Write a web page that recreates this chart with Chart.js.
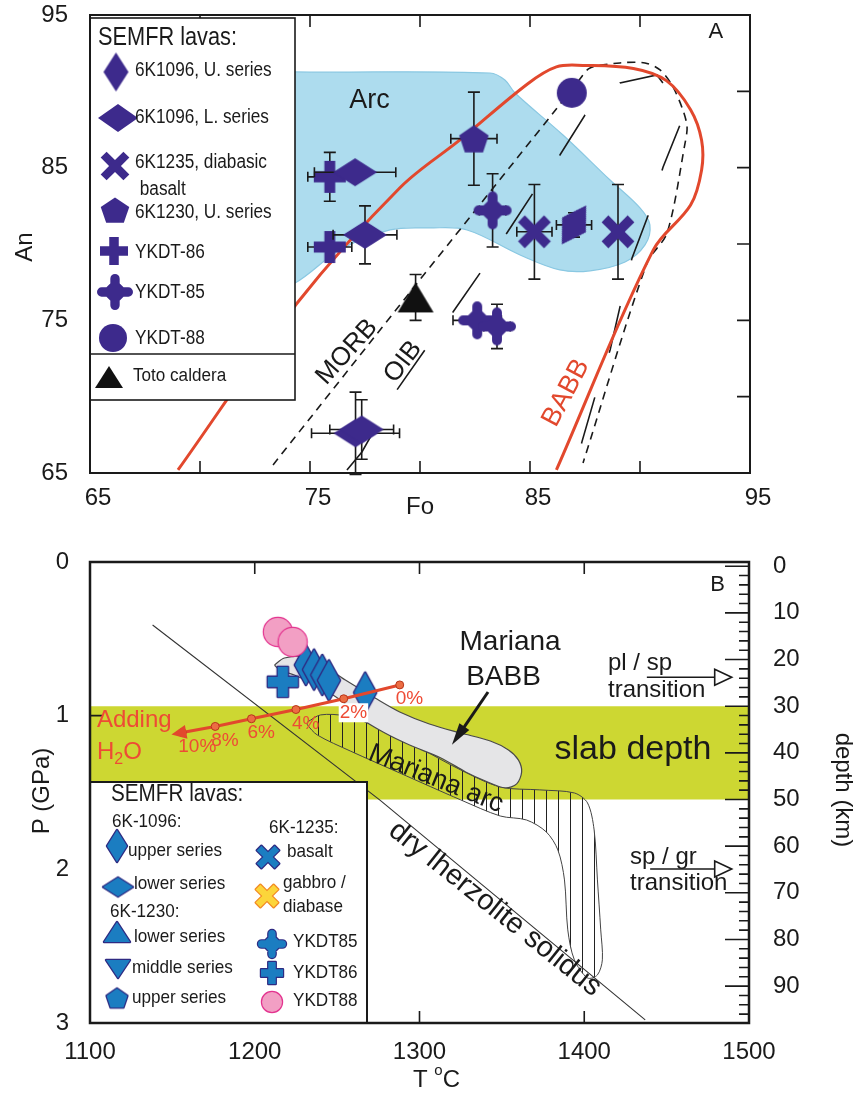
<!DOCTYPE html>
<html>
<head>
<meta charset="utf-8">
<title>SEMFR lavas: An-Fo and P-T</title>
<script src="https://cdn.jsdelivr.net/npm/chart.js@4.4.0/dist/chart.umd.min.js"></script>
<style>
  html, body { margin: 0; padding: 0; background: #fff; }
  #wrapA { position: absolute; left: 0; top: 0; width: 856px; height: 520px; }
  #wrapB { position: absolute; left: 0; top: 520px; width: 856px; height: 575px; }
</style>
</head>
<body>
<div id="wrapA"><canvas id="panelA" width="856" height="520"></canvas></div>
<div id="wrapB"><canvas id="panelB" width="856" height="575"></canvas></div>
<script>
// ===== panel A: olivine Fo vs plagioclase An =====
const foTicks = [70, 75, 80, 85, 90];
const anTicks = [70, 75, 80, 85, 90];

const namesA = ['6K1096, U. series', '6K1096, L. series', '6K1235, diabasic\n basalt', '6K1230, U. series',
                'YKDT-86', 'YKDT-85', 'YKDT-88', 'Toto caldera'];

const u1096Fo = [87.0];
const u1096An = [81.25];
const u1096FoErr = [0.8];
const u1096AnErr = [0.8];

const l1096Fo = [77.05, 77.5, 77.07, 77.35];
const l1096An = [84.7, 80.6, 67.6, 67.85];
const l1096FoErr = [1.85, 1.45, 2.0, 1.45];
const l1096AnErr = [0, 1.9, 2.7, 1.95];

const d1235Fo = [85.2, 89.0];
const d1235An = [80.8, 80.8];
const d1235FoErr = [0.8, 0];
const d1235AnErr = [3.1, 3.1];

const u1230Fo = [82.45];
const u1230An = [86.9];
const u1230FoErr = [1.05];
const u1230AnErr = [3.05];

const ykdt86Fo = [75.9, 75.9];
const ykdt86An = [84.4, 79.8];
const ykdt86FoErr = [1.0, 1.0];
const ykdt86AnErr = [1.6, 0];

const ykdt85Fo = [83.3, 82.6, 83.5];
const ykdt85An = [82.2, 75.0, 74.6];
const ykdt85FoErr = [0.6, 1.1, 0.6];
const ykdt85AnErr = [2.4, 0, 1.45];

const ykdt88Fo = [86.9];
const ykdt88An = [89.9];

const totoFo = [79.8];
const totoAn = [76.5];
const totoAnErr = [1.5];

// outlines of the compositional fields
const arcFo = [72.27, 74.32, 83.18, 83.86, 84.32, 86.5, 88.64, 90.0, 90.45, 90.23, 89.32, 87.73, 86.36, 84.55, 82.14, 80.45, 78.64, 76.36, 74.32, 72.27];
const arcAn = [91.4, 91.27, 91.2, 90.74, 89.89, 87.14, 84.19, 82.36, 81.25, 79.94, 78.82, 78.24, 78.3, 79.28, 80.92, 81.05, 80.92, 79.61, 77.45, 76.34];

const babbFo = [69.0, 74.4, 79.1, 81.8, 84.9, 86.2, 87.4, 89.7, 91.2, 92.3, 92.8, 92.8, 92.3, 90.6, 86.2];
const babbAn = [65.2, 76.1, 83.7, 86.8, 90.5, 91.6, 91.7, 91.5, 90.7, 88.8, 86.8, 84.85, 82.55, 79.6, 65.2];

const morbFo = [73.32, 79.77, 86.05, 87.27, 87.73, 89.09, 90.23, 90.91, 91.45, 91.95, 92.14, 92.05, 91.23, 90.32, 87.41];
const morbAn = [65.53, 77.25, 88.58, 90.81, 91.53, 91.86, 91.86, 91.4, 90.42, 88.78, 87.67, 86.62, 80.72, 78.76, 65.66];

const oibFo = [76.68, 77.36, 78.95, 80.45, 81.5, 82.73, 83.95, 85.14, 86.36, 87.5, 89.09, 90.77, 91.45, 91.82, 91.05, 90.36, 89.64, 89.09, 88.64, 87.95, 87.36, 87.05];
const oibAn = [65.2, 66.38, 70.44, 73.52, 75.55, 78.1, 80.72, 83.34, 85.83, 88.45, 90.55, 91.07, 89.76, 87.8, 85.05, 81.84, 79.09, 75.88, 73.06, 69.98, 67.04, 65.2];

// ===== panel B: pressure vs temperature =====
const tempTicks = [1200, 1300, 1400];
const pTicks = [1, 2];
const depthMajor = [0, 10, 20, 30, 40, 50, 60, 70, 80, 90];

const namesB = ['upper series', 'lower series', 'lower series', 'middle series', 'upper series',
                'basalt', 'gabbro /\ndiabase', 'YKDT85', 'YKDT86', 'YKDT88'];

const ykdt88T = [1214, 1223];
const ykdt88P = [0.455, 0.52];
const ykdt86T = [1217];
const ykdt86P = [0.78];
const upper1096T = [1231, 1236, 1241, 1245, 1267];
const upper1096P = [0.67, 0.70, 0.735, 0.77, 0.85];

const waterT = [1288, 1254, 1225, 1198, 1176, 1156];
const waterP = [0.80, 0.89, 0.96, 1.02, 1.07, 1.11];
const waterLabels = ['0%', '2%', '4%', '6%', '8%', '10%'];

const solidusT = [1138, 1276, 1437];
const solidusP = [0.41, 1.55, 2.98];

const babbFieldT = [1212, 1218, 1231, 1243, 1255, 1273, 1288, 1306, 1325, 1343, 1354, 1360, 1362, 1359, 1352, 1340, 1328, 1313, 1294, 1279, 1264, 1252, 1237, 1224, 1215];
const babbFieldP = [0.67, 0.625, 0.618, 0.683, 0.768, 0.885, 0.976, 1.054, 1.113, 1.165, 1.223, 1.288, 1.366, 1.444, 1.47, 1.425, 1.366, 1.275, 1.191, 1.113, 1.015, 0.898, 0.8, 0.735, 0.703];

const arcFieldT = [1232, 1240, 1255, 1276, 1300, 1325, 1349, 1373, 1394, 1402, 1406, 1408, 1410, 1411, 1408, 1402, 1394, 1390, 1388, 1384, 1377, 1365, 1349, 1325, 1288, 1258, 1238, 1232];
const arcFieldP = [1.041, 0.995, 1.002, 1.08, 1.21, 1.353, 1.464, 1.483, 1.503, 1.568, 1.744, 2.069, 2.394, 2.589, 2.687, 2.707, 2.589, 2.394, 2.069, 1.874, 1.757, 1.679, 1.653, 1.548, 1.373, 1.23, 1.126, 1.06];

const slabKm = [30, 50];

// ===== drawing helpers =====
const FONT = '"Liberation Sans", Arial, Helvetica, sans-serif';
const INK = '#1a1a1a';
const PURPLE = '#3d2a8c';
const BLUE = '#1b7dc1';
const NAVY = '#2e2a82';
const RED = '#e2482d';
const LABEL_RED = '#ee4b35';

Chart.defaults.font.family = FONT;
Chart.defaults.color = INK;

function pts(xs, ys) { return xs.map((x, i) => ({ x: x, y: ys[i] })); }
function closed(list) { return list.concat([list[0]]); }

function shapePath(g, shape, rx, ry) {
  g.beginPath();
  if (shape === 'circle') {
    g.ellipse(0, 0, rx, ry, 0, 0, Math.PI * 2);
  } else if (shape === 'diamond') {
    g.moveTo(0, -ry); g.lineTo(rx, 0); g.lineTo(0, ry); g.lineTo(-rx, 0); g.closePath();
  } else if (shape === 'triangle') {
    g.moveTo(0, -ry); g.lineTo(rx, ry); g.lineTo(-rx, ry); g.closePath();
  } else if (shape === 'triangleDown') {
    g.moveTo(-rx, -ry); g.lineTo(rx, -ry); g.lineTo(0, ry); g.closePath();
  } else if (shape === 'pentagon') {
    for (let i = 0; i < 5; i++) {
      const ang = -Math.PI / 2 + i * 2 * Math.PI / 5;
      const px = rx * Math.cos(ang), py = ry * Math.sin(ang) + ry * 0.1;
      if (i) g.lineTo(px, py); else g.moveTo(px, py);
    }
    g.closePath();
  } else if (shape === 'plus' || shape === 'cross') {
    const isX = shape === 'cross';
    const r = isX ? rx * 1.15 : rx, t = isX ? rx * 0.3 : rx * 0.34;
    const rot = isX ? Math.PI / 4 : 0;
    const c = [[-t, -r], [t, -r], [t, -t], [r, -t], [r, t], [t, t], [t, r], [-t, r], [-t, t], [-r, t], [-r, -t], [-t, -t]];
    c.forEach(([u, v], i) => {
      const px = u * Math.cos(rot) - v * Math.sin(rot), py = u * Math.sin(rot) + v * Math.cos(rot);
      if (i) g.lineTo(px, py); else g.moveTo(px, py);
    });
    g.closePath();
  } else if (shape === 'lobed') {
    const t = rx * 0.26, L = rx - t, d = rx * 0.74;
    g.moveTo(0, -d); g.lineTo(d, 0); g.lineTo(0, d); g.lineTo(-d, 0); g.closePath();
    g.rect(-t, -L, 2 * t, 2 * L);
    g.rect(-L, -t, 2 * L, 2 * t);
    [[0, -L], [L, 0], [0, L], [-L, 0]].forEach(([u, v]) => { g.moveTo(u + t, v); g.arc(u, v, t, 0, Math.PI * 2); });
  }
}

function makeMarker(shape, w, h, fill, stroke, lw) {
  const pad = Math.ceil((lw || 0) + 2);
  const c = document.createElement('canvas');
  c.width = Math.ceil(w + pad * 2);
  c.height = Math.ceil(h + pad * 2);
  const g = c.getContext('2d');
  g.translate(c.width / 2, c.height / 2);
  shapePath(g, shape, w / 2, h / 2);
  if (lw) { g.lineWidth = lw * 2; g.strokeStyle = stroke; g.lineJoin = 'round'; g.stroke(); }
  g.fillStyle = fill;
  g.fill();
  return c;
}

function stamp(ctx, c, x, y) { ctx.drawImage(c, x - c.width / 2, y - c.height / 2); }

function text(ctx, str, x, y, o) {
  o = o || {};
  ctx.save();
  ctx.translate(x, y);
  if (o.rot) ctx.rotate(o.rot * Math.PI / 180);
  if (o.sx) ctx.scale(o.sx, 1);
  ctx.font = (o.size || 20) + 'px ' + FONT;
  ctx.textAlign = o.align || 'left';
  ctx.textBaseline = 'middle';
  const w = ctx.measureText(str).width;
  if (o.bg) {
    ctx.fillStyle = o.bg;
    const x0 = ctx.textAlign === 'center' ? -w / 2 : 0;
    ctx.fillRect(x0 - 1, -(o.size || 20) * 0.5, w + 2, (o.size || 20));
  }
  ctx.fillStyle = o.color || INK;
  ctx.fillText(str, 0, 0);
  ctx.restore();
  return w * (o.sx || 1);
}

function innerTicks(ctx, a, scale, values, side, len) {
  ctx.beginPath();
  values.forEach(v => {
    const p = scale.getPixelForValue(v);
    if (side === 'bottom') { ctx.moveTo(p, a.bottom); ctx.lineTo(p, a.bottom - len); }
    if (side === 'top') { ctx.moveTo(p, a.top); ctx.lineTo(p, a.top + len); }
    if (side === 'left') { ctx.moveTo(a.left, p); ctx.lineTo(a.left + len, p); }
    if (side === 'right') { ctx.moveTo(a.right, p); ctx.lineTo(a.right - len, p); }
  });
  ctx.stroke();
}

function openArrow(ctx, x0, y0, x1, y1) {
  ctx.beginPath(); ctx.moveTo(x0, y0); ctx.lineTo(x1 - 16, y1); ctx.stroke();
  ctx.beginPath(); ctx.moveTo(x1, y1); ctx.lineTo(x1 - 17, y1 - 8); ctx.lineTo(x1 - 17, y1 + 8); ctx.closePath();
  ctx.fillStyle = '#fff'; ctx.fill(); ctx.stroke();
}

// x / y error bars kept on the marker datasets
const errorBars = {
  id: 'errorBars',
  beforeDatasetDraw(chart, args) {
    const ds = chart.data.datasets[args.index];
    if (!ds.errX && !ds.errY) return;
    const ctx = chart.ctx, sx = args.meta.xScale, sy = args.meta.yScale;
    ctx.save();
    ctx.strokeStyle = INK;
    ctx.lineWidth = 1.6;
    ctx.beginPath();
    ds.data.forEach((p, i) => {
      const ex = ds.errX ? ds.errX[i] : 0, ey = ds.errY ? ds.errY[i] : 0;
      const px = sx.getPixelForValue(p.x), py = sy.getPixelForValue(p.y);
      if (ex) {
        const l = sx.getPixelForValue(p.x - ex), r = sx.getPixelForValue(p.x + ex);
        ctx.moveTo(l, py); ctx.lineTo(r, py);
        ctx.moveTo(l, py - 5); ctx.lineTo(l, py + 5);
        ctx.moveTo(r, py - 5); ctx.lineTo(r, py + 5);
      }
      if (ey) {
        const t = sy.getPixelForValue(p.y + ey), b = sy.getPixelForValue(p.y - ey);
        ctx.moveTo(px, t); ctx.lineTo(px, b);
        ctx.moveTo(px - 6, t); ctx.lineTo(px + 6, t);
        ctx.moveTo(px - 6, b); ctx.lineTo(px + 6, b);
      }
    });
    ctx.stroke();
    ctx.restore();
  }
};

function markerSet(label, xs, ys, style, ex, ey, extra) {
  return Object.assign({ label: label, data: pts(xs, ys), pointStyle: style, pointRadius: 12, errX: ex, errY: ey }, extra || {});
}

// keep tick-label overflow from pushing the plot frame around
function fixBox(size) {
  return s => {
    if (s.isHorizontal()) s.height = size; else s.width = size;
    s.paddingTop = 0; s.paddingBottom = 0; s.paddingLeft = 0; s.paddingRight = 0;
  };
}

// ===== panel A chart =====
const markA = {
  u1096: makeMarker('diamond', 28, 46, PURPLE),
  l1096: makeMarker('diamond', 44, 28, PURPLE),
  d1235: makeMarker('cross', 32, 32, PURPLE),
  u1230: makeMarker('pentagon', 31, 30, PURPLE),
  ykdt86: makeMarker('plus', 32, 32, PURPLE),
  ykdt85: makeMarker('lobed', 38, 38, PURPLE),
  ykdt88: makeMarker('circle', 30, 30, PURPLE),
  toto: makeMarker('triangle', 36, 30, '#111')
};
const keyA = [
  makeMarker('diamond', 25, 39, PURPLE),
  makeMarker('diamond', 40, 28, PURPLE),
  makeMarker('cross', 28, 28, PURPLE),
  makeMarker('pentagon', 30, 28, PURPLE),
  makeMarker('plus', 28, 28, PURPLE),
  makeMarker('lobed', 36, 36, PURPLE),
  makeMarker('circle', 28, 28, PURPLE),
  makeMarker('triangle', 28, 22, '#111')
];

const datasetsA = [
  markerSet('YKDT-88', ykdt88Fo, ykdt88An, markA.ykdt88),
  markerSet('6K1096, U. series', u1096Fo, u1096An, markA.u1096, u1096FoErr, u1096AnErr, { pointRotation: 32 }),
  markerSet('6K1235', d1235Fo, d1235An, markA.d1235, d1235FoErr, d1235AnErr),
  markerSet('YKDT-85', ykdt85Fo, ykdt85An, markA.ykdt85, ykdt85FoErr, ykdt85AnErr),
  markerSet('6K1230, U. series', u1230Fo, u1230An, markA.u1230, u1230FoErr, u1230AnErr),
  markerSet('6K1096, L. series', l1096Fo, l1096An, markA.l1096, l1096FoErr, l1096AnErr),
  markerSet('YKDT-86', ykdt86Fo, ykdt86An, markA.ykdt86, ykdt86FoErr, ykdt86AnErr),
  markerSet('Toto caldera', totoFo, totoAn, markA.toto, null, totoAnErr),
  { type: 'line', label: 'BABB', data: pts(babbFo, babbAn), borderColor: RED, borderWidth: 3,
    pointRadius: 0, tension: 0.35, fill: false },
  { type: 'line', label: 'OIB', data: pts(oibFo, oibAn), borderColor: INK, borderWidth: 1.6,
    borderDash: [48, 47], pointRadius: 0, tension: 0, fill: false },
  { type: 'line', label: 'MORB', data: pts(morbFo, morbAn), borderColor: INK, borderWidth: 1.6,
    borderDash: [8, 6], pointRadius: 0, tension: 0.3, fill: false },
  { type: 'line', label: 'Arc', data: closed(pts(arcFo, arcAn)), borderColor: '#8ac8e2', borderWidth: 1.2,
    backgroundColor: '#addcee', fill: 'shape', pointRadius: 0, tension: 0.35 }
];

const decorA = {
  id: 'decorA',
  afterDatasetsDraw(chart) {
    const { ctx, chartArea: a, scales: { x, y } } = chart;
    const X = v => x.getPixelForValue(v), Y = v => y.getPixelForValue(v);
    ctx.save();
    ctx.strokeStyle = INK;
    ctx.lineWidth = 1.6;
    innerTicks(ctx, a, x, foTicks, 'bottom', 12);
    innerTicks(ctx, a, x, foTicks, 'top', 12);
    innerTicks(ctx, a, y, anTicks, 'right', 13);

    text(ctx, 'Arc', X(77.7), Y(89.4), { size: 27, align: 'center' });
    text(ctx, 'A', X(93.45), Y(93.9), { size: 22, align: 'center' });
    text(ctx, 'MORB', X(76.68), Y(72.93), { size: 26, align: 'center', rot: -48 });
    text(ctx, 'OIB', X(79.23), Y(72.28), { size: 26, align: 'center', rot: -52 });
    text(ctx, 'BABB', X(86.64), Y(70.25), { size: 27, align: 'center', rot: -62, color: RED });

    // key
    ctx.fillStyle = '#fff';
    ctx.fillRect(90, 18, 205, 382);
    ctx.lineWidth = 1.6;
    ctx.strokeRect(90, 18, 205, 382);
    ctx.beginPath(); ctx.moveTo(90, 354); ctx.lineTo(295, 354); ctx.stroke();
    text(ctx, 'SEMFR lavas:', 98, 38, { size: 25, sx: 0.87 });
    const rows = [[116, 72, 70], [118, 118, 117], [115, 166, 162], [115, 210, 212],
                  [114, 251, 252], [115, 292, 292], [113, 338, 338], [109, 377, 376]];
    rows.forEach((r, i) => {
      stamp(ctx, keyA[i], r[0], r[1]);
      namesA[i].split('\n').forEach((s, k) =>
        text(ctx, s, i === 7 ? 133 : 135, r[2] + k * 27, { size: i === 7 ? 18 : 20, sx: i === 7 ? 0.95 : 0.86 }));
    });

    ctx.lineWidth = 2;
    ctx.strokeRect(a.left, a.top, a.right - a.left, a.bottom - a.top);
    text(ctx, 'Fo', (a.left + a.right) / 2, 507, { size: 24, align: 'center' });
    text(ctx, 'An', 25, 247, { size: 24, align: 'center', rot: -90 });
    ctx.restore();
  }
};

const tickLabel10 = base => v => (v - base) % 10 === 0 ? String(v) : '';

new Chart(document.getElementById('panelA'), {
  type: 'scatter',
  data: { datasets: datasetsA },
  options: {
    responsive: false,
    animation: false,
    events: [],
    layout: { padding: { left: 0, right: 106, top: 15, bottom: 0 } },
    plugins: { legend: { display: false }, tooltip: { enabled: false } },
    scales: {
      x: {
        type: 'linear', min: 65, max: 95,
        grid: { display: false }, border: { display: false },
        ticks: { stepSize: 5, autoSkip: false, maxRotation: 0, padding: 3, labelOffset: 8,
                 font: { size: 24 }, callback: tickLabel10(65) },
        afterFit: fixBox(47)
      },
      y: {
        type: 'linear', min: 65, max: 95,
        grid: { display: false }, border: { display: false },
        ticks: { stepSize: 5, autoSkip: false, padding: 14, font: { size: 24 }, callback: tickLabel10(65) },
        afterFit: fixBox(90)
      }
    }
  },
  plugins: [errorBars, decorA]
});

// ===== panel B chart =====
const ctxB = document.getElementById('panelB').getContext('2d');
const hatchTile = document.createElement('canvas');
hatchTile.width = 12; hatchTile.height = 8;
(function () {
  const g = hatchTile.getContext('2d');
  g.strokeStyle = '#222'; g.lineWidth = 1;
  g.beginPath(); g.moveTo(6.5, 0); g.lineTo(6.5, 8); g.stroke();
})();
const hatch = ctxB.createPattern(hatchTile, 'repeat');

const markB = {
  upper1096: makeMarker('diamond', 22, 40, BLUE, NAVY, 1.3),
  ykdt86: makeMarker('plus', 30, 30, BLUE, NAVY, 1.3),
  ykdt88: makeMarker('circle', 28, 28, '#f29fc4', '#e3338f', 1.2)
};
const keyB = [
  makeMarker('diamond', 20, 32, BLUE, NAVY, 1.2),
  makeMarker('diamond', 30, 19, BLUE, NAVY, 1.2),
  makeMarker('triangle', 26, 20, BLUE, NAVY, 1.2),
  makeMarker('triangleDown', 24, 18, BLUE, NAVY, 1.2),
  makeMarker('pentagon', 22, 21, BLUE, NAVY, 1.2),
  makeMarker('cross', 22, 22, BLUE, NAVY, 1.2),
  makeMarker('cross', 22, 22, '#fcd53a', '#f28a23', 1.2),
  makeMarker('lobed', 28, 28, BLUE, NAVY, 1.2),
  makeMarker('plus', 22, 24, BLUE, NAVY, 1.2),
  makeMarker('circle', 20, 20, '#f29fc4', '#e3338f', 1.2)
];

const datasetsB = [
  { type: 'line', label: 'Adding H2O', data: pts(waterT, waterP), borderColor: RED, borderWidth: 3,
    pointRadius: 4, pointBackgroundColor: '#ec6d43', pointBorderColor: '#b8361a', pointBorderWidth: 1,
    tension: 0, fill: false },
  markerSet('YKDT88', ykdt88T, ykdt88P, markB.ykdt88),
  markerSet('YKDT86', ykdt86T, ykdt86P, markB.ykdt86),
  markerSet('6K-1096 upper series', upper1096T, upper1096P, markB.upper1096),
  { type: 'line', label: 'Mariana BABB', data: closed(pts(babbFieldT, babbFieldP)), borderColor: '#4a4a4a',
    borderWidth: 1.2, backgroundColor: '#e5e5e7', fill: 'shape', pointRadius: 0, tension: 0.3 },
  { type: 'line', label: 'dry lherzolite solidus', data: pts(solidusT, solidusP), borderColor: '#333',
    borderWidth: 1.1, pointRadius: 0, tension: 0, fill: false },
  { type: 'line', label: 'Mariana arc', data: closed(pts(arcFieldT, arcFieldP)), borderColor: '#444',
    borderWidth: 1, backgroundColor: hatch, fill: 'shape', pointRadius: 0, tension: 0.3 },
  { type: 'line', label: 'slab top', yAxisID: 'depth', data: pts([1100, 1500], [slabKm[0], slabKm[0]]),
    borderColor: 'rgba(0,0,0,0)', pointRadius: 0, fill: false },
  { type: 'line', label: 'slab depth', yAxisID: 'depth', data: pts([1100, 1500], [slabKm[1], slabKm[1]]),
    borderColor: 'rgba(0,0,0,0)', backgroundColor: '#cdd732', pointRadius: 0, fill: '-1' }
];

const decorB = {
  id: 'decorB',
  afterDatasetsDraw(chart) {
    const { ctx, chartArea: a, scales: { x, y, depth } } = chart;
    const X = v => x.getPixelForValue(v), Y = v => y.getPixelForValue(v), D = v => depth.getPixelForValue(v);
    ctx.save();
    ctx.strokeStyle = INK;
    ctx.lineWidth = 1.6;
    innerTicks(ctx, a, x, tempTicks, 'bottom', 12);
    innerTicks(ctx, a, x, tempTicks, 'top', 12);
    innerTicks(ctx, a, y, pTicks, 'left', 12);
    innerTicks(ctx, a, depth, depthMajor, 'right', 24);
    const minor = [];
    for (let km = 2; km < 98; km += 2) if (km % 10) minor.push(km);
    innerTicks(ctx, a, depth, minor, 'right', 10);

    // arrow head on the hydrous melting path
    const n = waterT.length;
    const x1 = X(waterT[n - 1]), y1 = Y(waterP[n - 1]);
    const x0 = X(waterT[n - 2]), y0 = Y(waterP[n - 2]);
    const len = Math.hypot(x1 - x0, y1 - y0), ux = (x1 - x0) / len, uy = (y1 - y0) / len;
    const tx = x1 + ux * 11, ty = y1 + uy * 11, bx = x1 - ux * 4, by = y1 - uy * 4;
    ctx.beginPath();
    ctx.moveTo(tx, ty); ctx.lineTo(bx - uy * 7, by + ux * 7); ctx.lineTo(bx + uy * 7, by - ux * 7); ctx.closePath();
    ctx.fillStyle = RED; ctx.fill();
    waterLabels.forEach((s, i) => {
      text(ctx, s, X(waterT[i]) - 4, Y(waterP[i]) + 14, { size: 19, color: LABEL_RED, bg: i === 1 ? '#fff' : null });
    });
    text(ctx, 'Adding', X(1104.2), Y(1.028), { size: 24, color: LABEL_RED });
    const hx = X(1104.2), hy = Y(1.236);
    const wH = text(ctx, 'H', hx, hy, { size: 24, color: LABEL_RED });
    const w2 = text(ctx, '2', hx + wH, hy + 8, { size: 16, color: LABEL_RED });
    text(ctx, 'O', hx + wH + w2, hy, { size: 24, color: LABEL_RED });

    text(ctx, 'B', X(1481), Y(0.15), { size: 22, align: 'center' });
    text(ctx, 'Mariana', X(1355), Y(0.52), { size: 28, align: 'center' });
    text(ctx, 'BABB', X(1351), Y(0.748), { size: 28, align: 'center' });
    // pointer to the BABB field
    const ax0 = X(1341.6), ay0 = Y(0.846), ax1 = X(1319.7), ay1 = Y(1.19);
    const al = Math.hypot(ax1 - ax0, ay1 - ay0), vx = (ax1 - ax0) / al, vy = (ay1 - ay0) / al;
    ctx.lineWidth = 3;
    ctx.beginPath(); ctx.moveTo(ax0, ay0); ctx.lineTo(ax1 - vx * 14, ay1 - vy * 14); ctx.stroke();
    ctx.beginPath();
    ctx.moveTo(ax1, ay1);
    ctx.lineTo(ax1 - vx * 22 - vy * 6, ay1 - vy * 22 + vx * 6);
    ctx.lineTo(ax1 - vx * 22 + vy * 6, ay1 - vy * 22 - vx * 6);
    ctx.closePath(); ctx.fillStyle = INK; ctx.fill();

    text(ctx, 'slab depth', X(1429.6), Y(1.223), { size: 34, align: 'center' });
    text(ctx, 'Mariana arc', X(1310), Y(1.412), { size: 27, align: 'center', rot: 22 });
    text(ctx, 'dry lherzolite solidus', X(1345.8), Y(2.258), { size: 29, align: 'center', rot: 38.5 });

    text(ctx, 'pl / sp', X(1414.4), D(20.8), { size: 24 });
    text(ctx, 'transition', X(1414.4), D(26.6), { size: 24 });
    text(ctx, 'sp / gr', X(1427.8), D(62.4), { size: 24 });
    text(ctx, 'transition', X(1427.8), D(67.9), { size: 24 });
    ctx.lineWidth = 1.6;
    openArrow(ctx, X(1438), D(23.8), X(1489.5), D(23.8));
    openArrow(ctx, X(1440), D(64.9), X(1489.5), D(64.9));

    // key
    ctx.fillStyle = '#fff';
    ctx.fillRect(90, 262, 277, 241);
    ctx.lineWidth = 2;
    ctx.strokeRect(90, 262, 277, 241);
    text(ctx, 'SEMFR lavas:', 111, 275, { size: 23, sx: 0.9 });
    text(ctx, '6K-1096:', 112, 302, { size: 19, sx: 0.9 });
    text(ctx, '6K-1230:', 110, 392, { size: 19, sx: 0.9 });
    text(ctx, '6K-1235:', 269, 308, { size: 19, sx: 0.9 });
    const rows = [[117, 326, 128, 331], [118, 367, 134, 364], [117, 412, 134, 417], [118, 449, 132, 448],
                  [117, 478, 132, 478], [268, 337, 287, 332], [267, 376, 283, 363], [272, 424, 293, 422],
                  [272, 453, 293, 453], [272, 482, 293, 481]];
    rows.forEach((r, i) => {
      stamp(ctx, keyB[i], r[0], r[1]);
      namesB[i].split('\n').forEach((s, k) => text(ctx, s, r[2], r[3] + k * 24, { size: 19, sx: 0.9 }));
    });

    ctx.lineWidth = 2.5;
    ctx.strokeRect(a.left, a.top, a.right - a.left, a.bottom - a.top);

    const tw = text(ctx, 'T ', 413, 560, { size: 24 });
    const ow = text(ctx, 'o', 413 + tw, 551, { size: 15 });
    text(ctx, 'C', 413 + tw + ow, 560, { size: 24 });
    text(ctx, 'P (GPa)', 42, 271, { size: 24, align: 'center', rot: -90 });
    text(ctx, 'depth (km)', 843, 270, { size: 24, align: 'center', rot: 90 });
    ctx.restore();
  }
};

const plain = v => String(v);

new Chart(ctxB, {
  type: 'scatter',
  data: { datasets: datasetsB },
  options: {
    responsive: false,
    animation: false,
    events: [],
    layout: { padding: { left: 0, right: 0, top: 42, bottom: 0 } },
    plugins: { legend: { display: false }, tooltip: { enabled: false } },
    scales: {
      x: {
        type: 'linear', min: 1100, max: 1500,
        grid: { display: false }, border: { display: false },
        ticks: { stepSize: 100, autoSkip: false, maxRotation: 0, padding: 7, font: { size: 24 }, callback: plain },
        afterFit: fixBox(72)
      },
      y: {
        type: 'linear', min: 0, max: 3, reverse: true,
        grid: { display: false }, border: { display: false },
        ticks: { stepSize: 1, autoSkip: false, padding: 13, font: { size: 24 }, callback: plain },
        afterFit: fixBox(90)
      },
      depth: {
        type: 'linear', position: 'right', min: -0.9, max: 97.9, reverse: true,
        grid: { display: false }, border: { display: false },
        ticks: { stepSize: 10, autoSkip: false, includeBounds: false, padding: 16, font: { size: 24 }, callback: plain },
        afterFit: fixBox(107)
      }
    }
  },
  plugins: [errorBars, decorB]
});
</script>
</body>
</html>
